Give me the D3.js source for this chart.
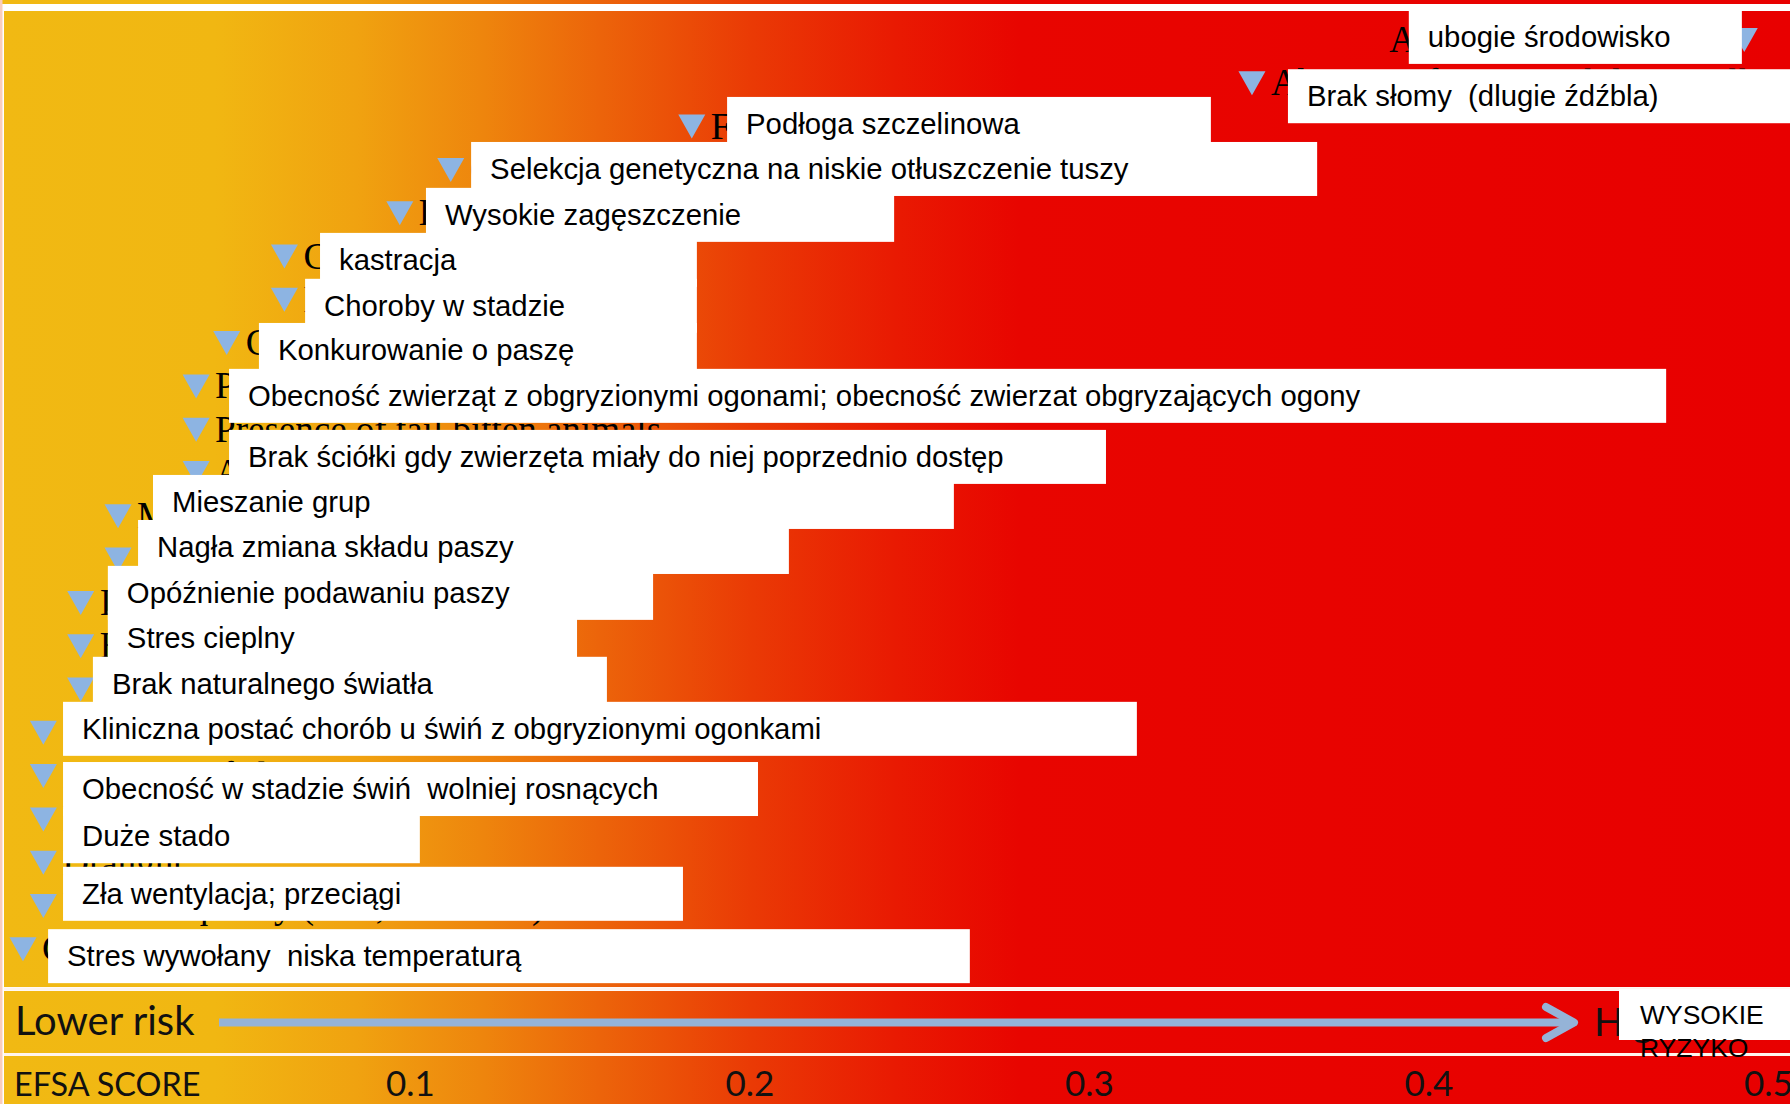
<!DOCTYPE html>
<html lang="pl">
<head>
<meta charset="utf-8">
<style>
  body { margin: 0; background: #fff; }
  svg { display: block; }
  .lbl { font-family: "Liberation Sans", Arial, sans-serif; font-size: 29.3px; fill: #000; white-space: pre; }
  .eng { font-family: "Liberation Serif", "Times New Roman", serif; font-size: 37px; fill: #000; }
  .band { font-family: Lato, "Open Sans", sans-serif; fill: #111; }
</style>
</head>
<body>
<script src="https://cdn.jsdelivr.net/npm/d3@7"></script>
<script>
// EFSA score of each risk factor (one triangle per row, top to bottom)
const rowScores = [0.493, 0.348, 0.183, 0.112, 0.097, 0.063, 0.063, 0.046, 0.037, 0.037, 0.037,
                   0.014, 0.014, 0.003, 0.003, 0.003, -0.008, -0.008, -0.008, -0.008, -0.008, -0.014];

// original english names, mostly hidden under the polish labels
const rowNamesEn = ["Absence of enrichment", "Absence of straw with long stalks", "Fully slatted floor",
  "Genetic selection for low back fat", "High stocking density", "Castration", "Disease in the herd",
  "Competition for feed", "Presence of tail biting animals", "Presence of tail bitten animals",
  "Absence of bedding when previously available", "Mixing of unfamiliar pigs (re-grouping)",
  "Sudden change in feed composition", "Irregular feeding", "Heat stress", "Lack of natural light",
  "Clinical disease in tail bitten pigs", "Presence of slower growing pigs", "Large herd size",
  "Draught", "Poor air quality (dust, ammonia)", "Cold stress"];

// polish labels pasted over the chart
const labelsPl = ["ubogie środowisko", "Brak słomy  (dlugie źdźbla)", "Podłoga szczelinowa",
  "Selekcja genetyczna na niskie otłuszczenie tuszy", "Wysokie zagęszczenie", "kastracja",
  "Choroby w stadzie", "Konkurowanie o paszę",
  "Obecność zwierząt z obgryzionymi ogonami; obecność zwierzat obgryzających ogony",
  "Brak ściółki gdy zwierzęta miały do niej poprzednio dostęp", "Mieszanie grup",
  "Nagła zmiana składu paszy", "Opóźnienie podawaniu paszy", "Stres cieplny",
  "Brak naturalnego światła", "Kliniczna postać chorób u świń z obgryzionymi ogonkami",
  "Obecność w stadzie świń  wolniej rosnących", "Duże stado", "Zła wentylacja; przeciągi",
  "Stres wywołany  niska temperaturą"];
// row (fractional) where each label sits
const labelRow = [-0.06, 1.31, 1.95, 2.99, 4.05, 5.09, 6.15, 7.17, 8.23, 9.64, 10.68, 11.72,
                  12.78, 13.82, 14.88, 15.92, 17.31, 18.4, 19.73, 21.17];
// extent of each label on the score axis
const labelFrom = [0.3942, 0.3586, 0.1934, 0.118, 0.1047, 0.0735, 0.0691, 0.0555, 0.0467, 0.0467,
                   0.0243, 0.0199, 0.011, 0.011, 0.0066, -0.0022, -0.0022, -0.0022, -0.0022, -0.0066];
const labelTo = [0.4923, 0.51, 0.3359, 0.3672, 0.2426, 0.1845, 0.1845, 0.1845, 0.47, 0.305,
                 0.2602, 0.2116, 0.1716, 0.1492, 0.158, 0.3141, 0.2025, 0.1029, 0.1804, 0.2649];

const tickValues = [0.1, 0.2, 0.3, 0.4, 0.5];

const W = 1790, H = 1104;
const svg = d3.select("body").append("svg").attr("width", W).attr("height", H);

const x = d3.scaleLinear().domain([0, 0.5]).range([70.5, 1768]);
const y = d3.scaleLinear().domain([0, 21]).range([40, 949.3]);

// gradient yellow -> red
const grad = svg.append("defs").append("linearGradient")
  .attr("id", "risk").attr("gradientUnits", "userSpaceOnUse")
  .attr("x1", 0).attr("x2", W).attr("y1", 0).attr("y2", 0);
[[0, "#F1B913"], [0.12, "#F1B712"], [0.2, "#F0A210"], [0.27, "#EE850D"], [0.335, "#EC640A"],
 [0.42, "#EA3A05"], [0.5, "#E91A02"], [0.57, "#E80500"], [1, "#E80000"]]
  .forEach(s => grad.append("stop").attr("offset", s[0]).attr("stop-color", s[1]));

svg.append("rect").attr("width", W).attr("height", H).attr("fill", "#fff");
svg.append("rect").attr("x", 0).attr("y", 0).attr("width", W).attr("height", 4).attr("fill", "url(#risk)");
svg.append("rect").attr("x", 4).attr("y", 11).attr("width", W - 4).attr("height", 976).attr("fill", "url(#risk)");
svg.append("rect").attr("x", 4).attr("y", 991).attr("width", W - 4).attr("height", 62).attr("fill", "url(#risk)");
svg.append("rect").attr("x", 4).attr("y", 1056).attr("width", W - 4).attr("height", 48).attr("fill", "url(#risk)");
svg.append("rect").attr("x", 0).attr("y", 0).attr("width", 2.5).attr("height", H).attr("fill", "#F9CDBE");

// hidden english labels (first row is written to the left of its triangle)
const plot = svg.append("g");
plot.selectAll("text.eng")
  .data(rowScores)
  .enter().append("text")
  .attr("class", "eng")
  .attr("x", (d, i) => i === 0 ? x(d) - 355 : x(d) + 19)
  .attr("y", (d, i) => y(i) + 12)
  .text((d, i) => rowNamesEn[i]);

// triangles
plot.selectAll("path.tri")
  .data(rowScores)
  .enter().append("path")
  .attr("class", "tri")
  .attr("d", "M-13.5,-12L13.5,-12L0,12Z")
  .attr("transform", (d, i) => "translate(" + x(d) + "," + y(i) + ")")
  .attr("fill", "#8DB4E2");

// polish label boxes
const boxH = 54;
labelsPl.forEach((t, i) => {
  const top = y(labelRow[i]) - 27.5;
  const g = plot.append("g");
  g.append("rect")
    .attr("x", x(labelFrom[i]))
    .attr("y", top)
    .attr("width", x(labelTo[i]) - x(labelFrom[i]))
    .attr("height", boxH)
    .attr("fill", "#fff");
  g.append("text")
    .attr("class", "lbl")
    .attr("x", x(labelFrom[i]) + 19)
    .attr("y", top + 37)
    .text(t);
});

// separator lines
svg.append("rect").attr("x", 4).attr("y", 987.5).attr("width", W).attr("height", 3).attr("fill", "#FFF4EE");
svg.append("rect").attr("x", 4).attr("y", 1053).attr("width", W).attr("height", 3).attr("fill", "#FFF4EE");

// lower risk band with arrow
svg.append("text").attr("class", "band").attr("x", 15).attr("y", 1035)
  .style("font-size", "40px").text("Lower risk");
svg.append("line").attr("x1", 219).attr("x2", 1572).attr("y1", 1022.5).attr("y2", 1022.5)
  .attr("stroke", "#95B3D7").attr("stroke-width", 8);
svg.append("path").attr("d", "M1546,1007L1574,1022.5L1546,1038")
  .attr("fill", "none").attr("stroke", "#95B3D7").attr("stroke-width", 8)
  .attr("stroke-linecap", "round").attr("stroke-linejoin", "round");
svg.append("text").attr("class", "band").attr("x", 1594).attr("y", 1036)
  .style("font-size", "39px").text("Higher risk");
svg.append("rect").attr("x", 1619).attr("y", 989).attr("width", 171).attr("height", 51).attr("fill", "#fff");
svg.append("text").attr("class", "lbl").attr("x", 1640).attr("y", 1024)
  .style("font-size", "26.5px").text("WYSOKIE");
svg.append("text").attr("class", "lbl").attr("x", 1640).attr("y", 1057)
  .style("font-size", "26.5px").text("RYZYKO");

// score axis
svg.append("text").attr("class", "band").attr("x", 14).attr("y", 1096)
  .style("font-size", "32.4px").text("EFSA SCORE");
const axis = svg.append("g")
  .attr("transform", "translate(0,1070)")
  .call(d3.axisBottom(x).tickValues(tickValues).tickSize(0).tickFormat(d3.format(".1f")));
axis.select(".domain").remove();
axis.selectAll("text")
  .attr("y", 26)
  .attr("dy", 0)
  .style("font-family", "Lato, 'Open Sans', sans-serif")
  .style("font-size", "35px")
  .attr("fill", "#111");
</script>
</body>
</html>
